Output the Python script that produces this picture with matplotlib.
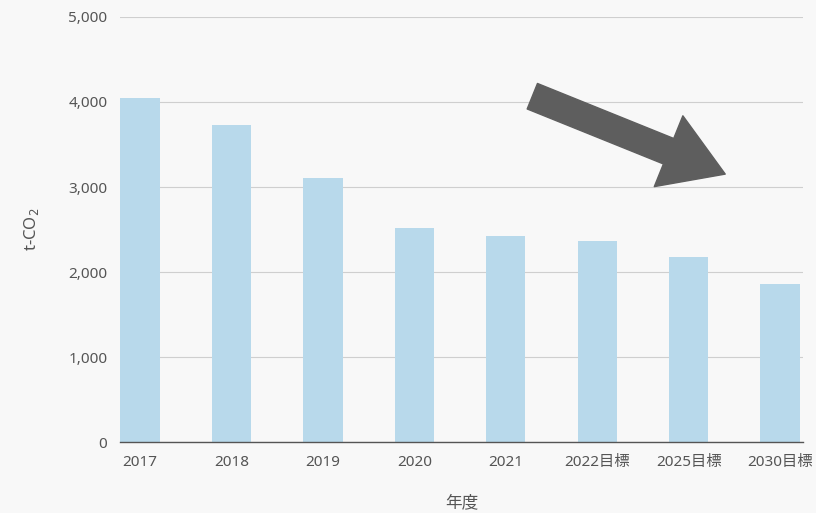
import matplotlib.pyplot as plt
from matplotlib.patches import FancyArrowPatch

plt.rcParams['font.family'] = ['Noto Sans', 'Noto Sans CJK JP', 'DejaVu Sans']

years = ["2017", "2018", "2019", "2020", "2021", "2022目標", "2025目標", "2030目標"]
emissions = [4050, 3730, 3110, 2520, 2425, 2365, 2180, 1860]
yticks = [0, 1000, 2000, 3000, 4000, 5000]

fig = plt.figure(figsize=(8.16, 5.13), dpi=100, facecolor="#f8f8f8")
ax = fig.add_axes([0.147, 0.138, 0.837, 0.829])
ax.set_facecolor("#f8f8f8")

x = range(len(years))
ax.bar(x, emissions, width=0.43, color="#b8d9eb", zorder=2)

ax.set_ylim(0, 5000)
ax.set_xlim(-0.22, 7.25)
ax.set_yticks(yticks)
ax.set_yticklabels([f"{v:,}" for v in yticks])
ax.set_xticks(list(x))
ax.set_xticklabels(years)

ax.grid(axis="y", color="#cfcfcf", linewidth=0.8, zorder=0)
for s in ["top", "right", "left"]:
    ax.spines[s].set_visible(False)
ax.spines["bottom"].set_color("#555555")
ax.spines["bottom"].set_linewidth(1.0)
ax.tick_params(axis="y", length=0, labelsize=11, colors="#555555", pad=9)
ax.tick_params(axis="x", length=0, labelsize=11, colors="#555555", pad=9)

ax.set_ylabel("t-CO$_2$", fontsize=12, color="#555555", labelpad=20)
ax.set_xlabel("年度", fontsize=12, color="#555555", labelpad=18)

# big grey trend arrow
arrow = FancyArrowPatch((0.60, 0.816), (0.89, 0.628), transform=ax.transAxes,
                        arrowstyle="simple,head_length=2.0,head_width=2.5,tail_width=0.9",
                        mutation_scale=22, color="#5e5e5e", zorder=3)
ax.add_patch(arrow)

fig.savefig("out.png", dpi=100, facecolor=fig.get_facecolor())
